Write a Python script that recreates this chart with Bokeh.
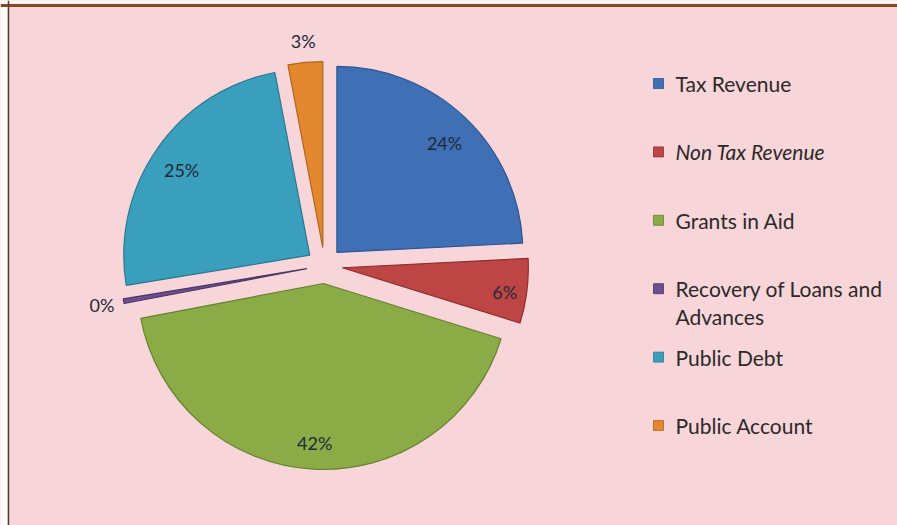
import math
from bokeh.plotting import figure
from bokeh.models import ColumnDataSource, Range1d, Span, BoxAnnotation
from bokeh.core.properties import value
from bokeh.embed import file_html
from bokeh.resources import INLINE

# Receipts composition (percent of total)
categories = ["Tax Revenue", "Non Tax Revenue", "Grants in Aid",
              "Recovery of Loans and\nAdvances", "Public Debt", "Public Account"]
shares = [24.2, 5.6, 42.2, 0.4, 24.6, 3.0]
colors = ["#3f6fb4", "#bd4543", "#8aab46", "#6b4f8e", "#3a9fbd", "#e4882f"]
edges = ["#2c5490", "#8e2e2c", "#66822f", "#4a3466", "#2a7890", "#b0641c"]
label_styles = ["normal", "italic", "normal", "normal", "normal", "normal"]

W, H = 897, 525
BG = "#f7d5d8"

p = figure(width=W, height=H, output_backend="svg", toolbar_location=None,
           x_range=Range1d(0, W), y_range=Range1d(0, H),
           min_border=0, background_fill_color=BG, border_fill_color=BG)
p.axis.visible = False
p.grid.visible = False
p.outline_line_color = None

# Pie geometry (pixel units, y measured upward)
cx, cy = 324, H - 265
radius = 186
explode = 18

total = sum(shares)
starts, ends, xs, ys, lx, ly, texts = [], [], [], [], [], [], []
cum = 0.0
for s in shares:
    a0 = 90 - (cum + s) / total * 360
    a1 = 90 - cum / total * 360
    cum += s
    mid = math.radians((a0 + a1) / 2)
    ox = cx + explode * math.cos(mid)
    oy = cy + explode * math.sin(mid)
    starts.append(math.radians(a0))
    ends.append(math.radians(a1))
    xs.append(ox)
    ys.append(oy)
    # small slices get their label outside the pie
    if s >= 5:
        dist = radius * (0.88 if s < 10 else 0.84)
        lx.append(ox + dist * math.cos(mid))
        ly.append(oy + dist * math.sin(mid) - 4)
    else:
        dist = radius + 22
        lx.append(ox + dist * math.cos(mid))
        ly.append(oy + dist * math.sin(mid))
    texts.append(f"{round(s)}%")

src = ColumnDataSource(dict(x=xs, y=ys, start=starts, end=ends,
                            color=colors, edge=edges,
                            lx=lx, ly=ly, txt=texts))

p.wedge(x="x", y="y", radius=radius, start_angle="start", end_angle="end",
        direction="anticlock", fill_color="color", line_color="edge",
        line_width=1.2, source=src)

p.text(x="lx", y="ly", text="txt", source=src, text_align="center",
       text_baseline="middle", text_font=value("Lato"),
       text_font_size="18px", text_color="#1e2a3a")

# Legend drawn as squares with labels (wrapped labels continue on lower lines)
row0 = H - 83
step = 68.4
line_gap = 28
leg_y = [row0 - i * step for i in range(len(categories))]
p.rect(x=658, y=leg_y, width=10, height=10, fill_color=colors,
       line_color=edges, line_width=0.8)

line_y, line_txt, line_style = [], [], []
for y, name, style in zip(leg_y, categories, label_styles):
    for k, part in enumerate(name.split("\n")):
        line_y.append(y - k * line_gap)
        line_txt.append(part)
        line_style.append(style)
lines_src = ColumnDataSource(dict(y=line_y, txt=line_txt, style=line_style))
p.text(x=675, y="y", text="txt", source=lines_src, text_align="left",
       text_baseline="middle", text_font=value("Lato"),
       text_font_size="21px", text_font_style="style", text_color="#2a2a2a")

# Frame edges: white margin, brown top rule, thin left rule
p.add_layout(BoxAnnotation(right=7, fill_color="#fdfbf6", fill_alpha=1, line_color=None))
p.add_layout(BoxAnnotation(bottom=H - 3, fill_color="#fdfbf6", fill_alpha=1, line_color=None))
p.add_layout(Span(location=H - 5, dimension="width", line_color="#874826", line_width=3))
p.add_layout(Span(location=8, dimension="height", line_color="#5b3b33", line_width=1.5))

open("out.html", "w").write(file_html(p, INLINE))
